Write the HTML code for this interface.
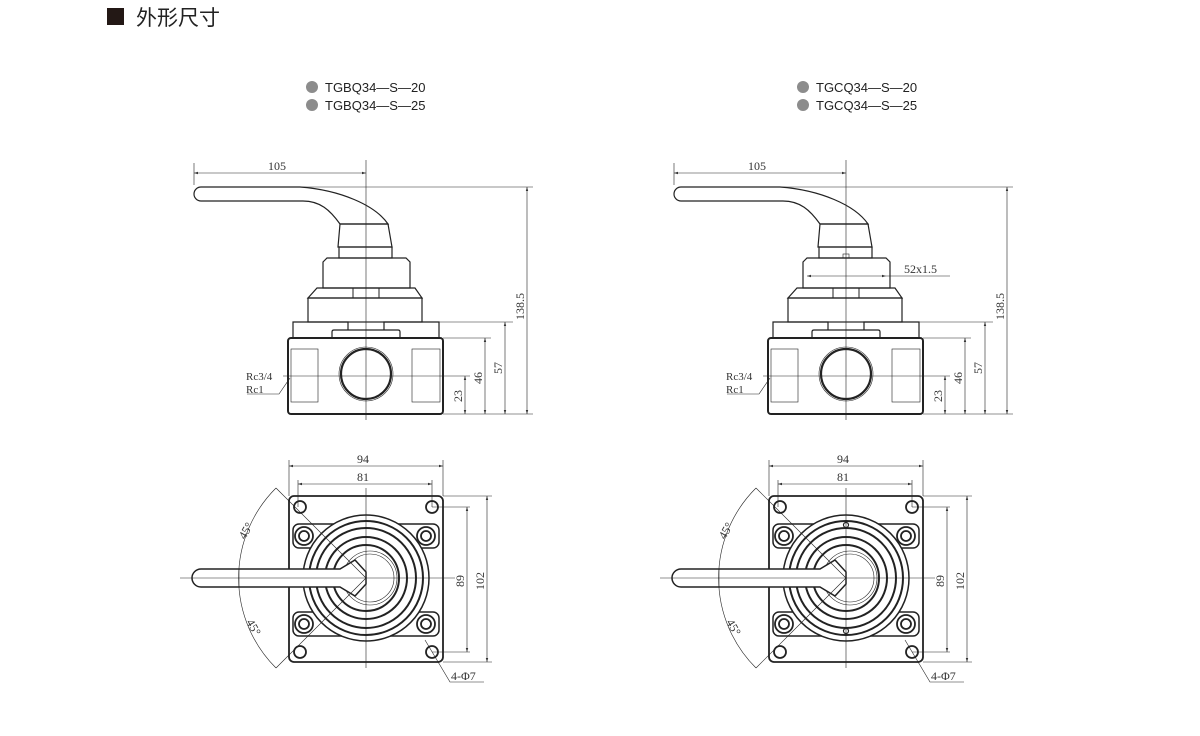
<!DOCTYPE html>
<html><head><meta charset="utf-8"><style>
html,body{margin:0;padding:0;background:#fff;}
svg{display:block}
text{font-family:"Liberation Serif",serif;fill:#333}
.s{font-family:"Liberation Sans","Noto Sans CJK SC",sans-serif;fill:#222}
</style></head><body>
<svg width="1200" height="736" viewBox="0 0 1200 736" xmlns="http://www.w3.org/2000/svg">
<defs>
<marker id="ar" viewBox="0 0 10 10" refX="10" refY="5" markerWidth="7" markerHeight="7" orient="auto-start-reverse"><path d="M0,2 L10,5 L0,8 z" fill="#333"/></marker>
<g id="side" fill="none" stroke="#222" stroke-width="1">
  <line x1="194" y1="173" x2="366" y2="173" stroke-width="0.6" marker-start="url(#ar)" marker-end="url(#ar)"/>
  <line x1="194" y1="163" x2="194" y2="185" stroke-width="0.6"/>
  <path d="M201,187 L300,187 C340,190 375,205 388,224 L340,224 C330,210 320,201 303,201 L201,201 A7,7 0 0 1 201,187 Z" stroke-width="1.2"/>
  <path d="M340,224 L388,224 L392,247 L338,247 Z" stroke-width="1.2"/>
  <rect x="339" y="247" width="53" height="11" stroke-width="1.2"/>
  <path d="M323,262 L327,258 L406,258 L410,262 L410,288 L323,288 Z" stroke-width="1.2"/>
  <path d="M317,288 L415,288 L422,298 L308,298 Z" stroke-width="1.2"/>
  <rect x="353" y="288" width="26" height="10"/>
  <rect x="308" y="298" width="114" height="24" stroke-width="1.2"/>
  <path d="M293,338 L293,322 L348,322 L348,330 M384,330 L384,322 L439,322 L439,338" stroke-width="1.2"/>
  <path d="M332,338 L332,332 Q332,330 334,330 L398,330 Q400,330 400,332 L400,338" stroke-width="1.2"/>
  <rect x="288" y="338" width="155" height="76" rx="3" stroke-width="2"/>
  <rect x="291" y="349" width="27" height="53" stroke-width="0.6"/>
  <rect x="412" y="349" width="28" height="53" stroke-width="0.6"/>
  <circle cx="366" cy="374" r="27" stroke-width="0.6"/>
  <circle cx="366" cy="374" r="25" stroke-width="2.2"/>
  <line x1="366" y1="160" x2="366" y2="420" stroke-width="0.6"/>
  <line x1="283" y1="376" x2="470" y2="376" stroke-width="0.6"/>
  <line x1="300" y1="187" x2="533" y2="187" stroke-width="0.6"/>
  <line x1="439" y1="322" x2="513" y2="322" stroke-width="0.6"/>
  <line x1="443" y1="338" x2="491" y2="338" stroke-width="0.6"/>
  <line x1="443" y1="414" x2="533" y2="414" stroke-width="0.6"/>
  <line x1="465" y1="376" x2="465" y2="414" stroke-width="0.6" marker-start="url(#ar)" marker-end="url(#ar)"/>
  <line x1="485" y1="338" x2="485" y2="414" stroke-width="0.6" marker-start="url(#ar)" marker-end="url(#ar)"/>
  <line x1="505" y1="322" x2="505" y2="414" stroke-width="0.6" marker-start="url(#ar)" marker-end="url(#ar)"/>
  <line x1="527" y1="187" x2="527" y2="414" stroke-width="0.6" marker-start="url(#ar)" marker-end="url(#ar)"/>
  <path d="M247,394 L279,394 L290,378" stroke-width="0.6"/>
</g>
<g id="sideText">
  <text x="268" y="170" font-size="12">105</text>
  <text transform="translate(462,402) rotate(-90)" font-size="12">23</text>
  <text transform="translate(482,384) rotate(-90)" font-size="12">46</text>
  <text transform="translate(502,374) rotate(-90)" font-size="12">57</text>
  <text transform="translate(524,320) rotate(-90)" font-size="12">138.5</text>
  <text x="246" y="380" font-size="11">Rc3/4</text>
  <text x="246" y="393" font-size="11">Rc1</text>
</g>
<g id="top" fill="none" stroke="#222" stroke-width="1">
  <line x1="289" y1="466" x2="443" y2="466" stroke-width="0.6" marker-start="url(#ar)" marker-end="url(#ar)"/>
  <line x1="289" y1="460" x2="289" y2="496" stroke-width="0.6"/>
  <line x1="443" y1="460" x2="443" y2="496" stroke-width="0.6"/>
  <line x1="298" y1="484" x2="432" y2="484" stroke-width="0.6" marker-start="url(#ar)" marker-end="url(#ar)"/>
  <line x1="298" y1="480" x2="298" y2="507" stroke-width="0.6"/>
  <line x1="432" y1="480" x2="432" y2="507" stroke-width="0.6"/>
  <rect x="289" y="496" width="154" height="166" rx="5" stroke-width="1.8"/>
  <rect x="293" y="524" width="146" height="24" rx="6" stroke-width="1.5"/>
  <rect x="293" y="612" width="146" height="24" rx="6" stroke-width="1.5"/>
  <circle cx="366" cy="578" r="63" fill="#fff" stroke-width="1.5"/>
  <circle cx="366" cy="578" r="57" stroke-width="2"/>
  <circle cx="366" cy="578" r="50" stroke-width="2"/>
  <circle cx="366" cy="578" r="41" stroke-width="2"/>
  <circle cx="366" cy="578" r="33" stroke-width="2"/>
  <circle cx="370" cy="578" r="27" stroke-width="0.6"/>
  <circle cx="370" cy="578" r="24" stroke-width="0.6"/>
  <g stroke-width="1.8">
  <circle cx="300" cy="507" r="6"/><circle cx="432" cy="507" r="6"/>
  <circle cx="300" cy="652" r="6"/><circle cx="432" cy="652" r="6"/>
  <circle cx="304" cy="536" r="9"/><circle cx="304" cy="536" r="5"/>
  <circle cx="426" cy="536" r="9"/><circle cx="426" cy="536" r="5"/>
  <circle cx="304" cy="624" r="9"/><circle cx="304" cy="624" r="5"/>
  <circle cx="426" cy="624" r="9"/><circle cx="426" cy="624" r="5"/>
  </g>
  <path d="M201,569 L340,569 L355,560 L366,572 L366,584 L355,596 L340,587 L201,587 A9,9 0 0 1 201,569 Z" fill="#fff" stroke-width="1.5"/>
  <line x1="366" y1="488" x2="366" y2="668" stroke-width="0.6"/>
  <line x1="180" y1="578" x2="455" y2="578" stroke-width="0.6"/>
  <line x1="366" y1="578" x2="276" y2="488" stroke-width="0.6"/>
  <line x1="366" y1="578" x2="276" y2="668" stroke-width="0.6"/>
  <path d="M276,488 A127,127 0 0 0 276,668" stroke-width="0.6"/>
  <line x1="239" y1="569" x2="239" y2="587" stroke-width="0.6"/>
  <line x1="432" y1="507" x2="470" y2="507" stroke-width="0.6"/>
  <line x1="432" y1="652" x2="470" y2="652" stroke-width="0.6"/>
  <line x1="443" y1="496" x2="492" y2="496" stroke-width="0.6"/>
  <line x1="443" y1="662" x2="492" y2="662" stroke-width="0.6"/>
  <line x1="467" y1="507" x2="467" y2="652" stroke-width="0.6" marker-start="url(#ar)" marker-end="url(#ar)"/>
  <line x1="487" y1="496" x2="487" y2="662" stroke-width="0.6" marker-start="url(#ar)" marker-end="url(#ar)"/>
  <path d="M425,640 L450,682 L484,682" stroke-width="0.6"/>
</g>
<g id="topText">
  <text x="357" y="463" font-size="12">94</text>
  <text x="357" y="481" font-size="12">81</text>
  <text transform="translate(464,587) rotate(-90)" font-size="12">89</text>
  <text transform="translate(484,590) rotate(-90)" font-size="12">102</text>
  <text transform="translate(245,540) rotate(-60)" font-size="12">45°</text>
  <text transform="translate(246,622) rotate(60)" font-size="12">45°</text>
  <text x="451" y="680" font-size="12">4-Φ7</text>
</g>
</defs>

<rect x="107" y="8" width="17" height="17" fill="#231815"/>
<text class="s" x="136" y="25" font-size="21">外形尺寸</text>

<circle cx="312" cy="87" r="6" fill="#8c8c8c"/>
<circle cx="312" cy="105" r="6" fill="#8c8c8c"/>
<text class="s" x="325" y="92" font-size="13">TGBQ34—S—20</text>
<text class="s" x="325" y="110" font-size="13">TGBQ34—S—25</text>
<circle cx="803" cy="87" r="6" fill="#8c8c8c"/>
<circle cx="803" cy="105" r="6" fill="#8c8c8c"/>
<text class="s" x="816" y="92" font-size="13">TGCQ34—S—20</text>
<text class="s" x="816" y="110" font-size="13">TGCQ34—S—25</text>

<use href="#side"/><use href="#sideText"/>
<use href="#top"/><use href="#topText"/>
<g transform="translate(480,0)">
  <use href="#side"/><use href="#sideText"/>
  <use href="#top"/><use href="#topText"/>
  <g fill="none" stroke="#222" stroke-width="0.6">
    <rect x="363" y="254" width="6" height="4"/>
    <line x1="327" y1="276" x2="406" y2="276" marker-start="url(#ar)" marker-end="url(#ar)"/>
    <line x1="406" y1="276" x2="470" y2="276"/>
    <circle cx="366" cy="525" r="2.5" stroke-width="1.2"/>
    <circle cx="366" cy="631" r="2.5" stroke-width="1.2"/>
  </g>
  <text x="424" y="273" font-size="12">52x1.5</text>
</g>
</svg>
</body></html>
